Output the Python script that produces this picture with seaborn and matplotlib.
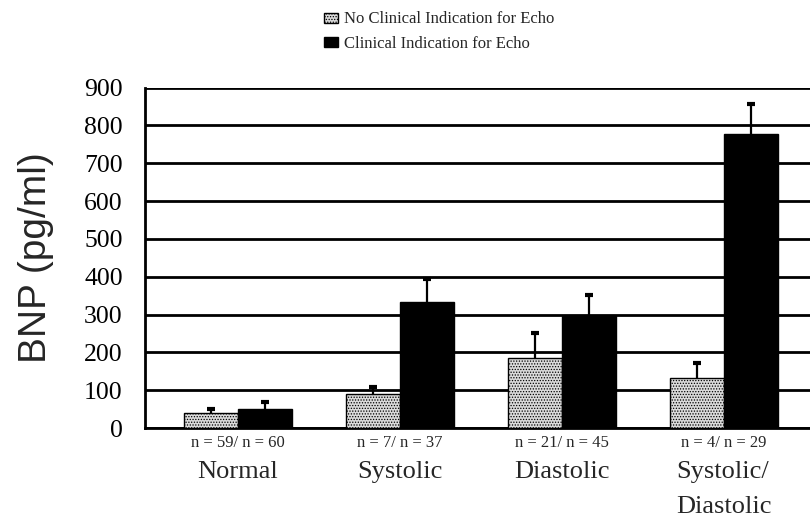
import numpy as np
import pandas as pd
import matplotlib
matplotlib.use("Agg")
import matplotlib.pyplot as plt
import seaborn as sns

# Echo finding categories and per-category sample sizes
categories = ["Normal", "Systolic", "Diastolic", "Systolic/\nDiastolic"]
n_labels = ["n = 59/ n = 60", "n = 7/ n = 37", "n = 21/ n = 45", "n = 4/ n = 29"]
groups = ["No Clinical Indication for Echo", "Clinical Indication for Echo"]

# Mean BNP (pg/ml) and SEM for each group
bnp_no_indication = [40, 90, 185, 131]
sem_no_indication = [9, 18, 66, 40]
bnp_indication = [50, 332, 297, 777]
sem_indication = [20, 63, 55, 80]

y_ticks = [0, 100, 200, 300, 400, 500, 600, 700, 800, 900]

df = pd.DataFrame({
    "category": categories * 2,
    "group": [groups[0]] * 4 + [groups[1]] * 4,
    "bnp": bnp_no_indication + bnp_indication,
})

sns.set_theme(style="white")
plt.rcParams["font.family"] = ["Liberation Serif", "DejaVu Serif"]
plt.rcParams["hatch.linewidth"] = 0.6
plt.rcParams["hatch.color"] = "#7a7a7a"

fig = plt.figure(figsize=(8.10, 5.21), dpi=100)
ax = fig.add_axes([0.179, 0.1785, 0.821, 0.6535])

sns.barplot(
    data=df, x="category", y="bnp", hue="group",
    order=categories, hue_order=groups,
    palette={groups[0]: "#dadada", groups[1]: "black"},
    saturation=1, width=0.67, edgecolor="black", linewidth=1.0,
    errorbar=None, legend=False, ax=ax, zorder=3,
)

# stippled fill for the "no indication" bars
for bar in ax.containers[0]:
    bar.set_hatch("......")

# one-sided (upper) SEM error bars, cap only at the top
for container, sems in zip(list(ax.containers), [sem_no_indication, sem_indication]):
    xs = [b.get_x() + b.get_width() / 2 for b in container]
    ys = [b.get_height() for b in container]
    _, caps, _ = ax.errorbar(xs, ys, yerr=[np.zeros(len(sems)), sems], fmt="none",
                             ecolor="black", elinewidth=1.6, capsize=3, capthick=3,
                             zorder=4)
    caps[0].set_visible(False)

ax.set_xlim(-0.574, 3.531)
ax.set_ylim(0, 900)
ax.set_yticks(y_ticks)
ax.set_yticklabels([str(t) for t in y_ticks], fontsize=18.5)
ax.yaxis.grid(True, color="black", linewidth=2.0)
ax.set_axisbelow(True)

ax.set_xticks(range(len(categories)))
ax.set_xticklabels(n_labels, fontsize=12)
ax.tick_params(axis="x", length=0, pad=5)
ax.tick_params(axis="y", direction="out", length=8, width=2, pad=8, colors="black")

for side in ["top", "right"]:
    ax.spines[side].set_visible(False)
for side in ["left", "bottom"]:
    ax.spines[side].set_color("black")
    ax.spines[side].set_linewidth(2.0)

ax.set_xlabel("")
ax.set_ylabel("BNP (pg/ml)", fontsize=28, family=["Liberation Sans", "DejaVu Sans"])
ax.yaxis.set_label_coords(-0.137, 0.5)

# category names under the sample sizes
trans = ax.get_xaxis_transform()
for i, name in enumerate(categories):
    ax.text(i, -0.096, name, transform=trans, ha="center", va="top",
            multialignment="left", fontsize=19, linespacing=1.8)

handles = [ax.containers[0][0], ax.containers[1][0]]
fig.legend(handles, groups, loc="upper left", bbox_to_anchor=(0.39, 0.994),
           frameon=False, fontsize=12, handlelength=0.8, handleheight=0.55,
           handletextpad=0.4, labelspacing=0.5, borderpad=0)

fig.savefig("out.png", dpi=100)
